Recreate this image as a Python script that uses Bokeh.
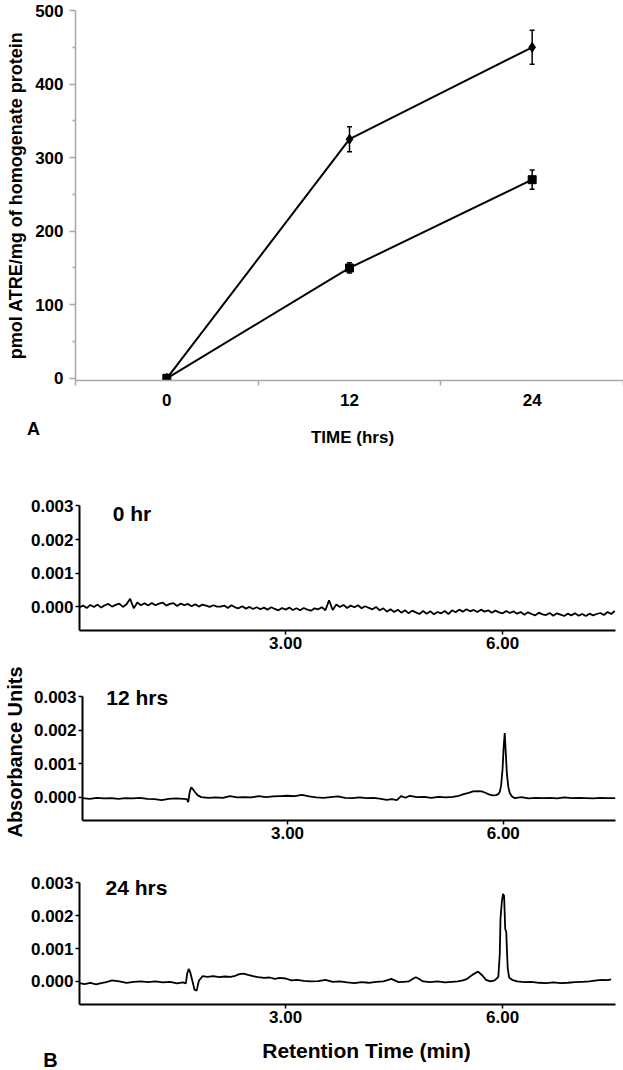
from bokeh.plotting import figure
from bokeh.models import (Range1d, FixedTicker, NumeralTickFormatter, Label,
                          Whisker, TeeHead, ColumnDataSource)
from bokeh.layouts import column
from bokeh.embed import file_html
from bokeh.resources import INLINE

FONT = "Liberation Sans"

# ---------------- Panel A data ----------------
time_hrs = [0, 12, 24]
atre_series1 = [0, 325, 450]      # diamonds
atre_series1_sem = [0, 17, 23]
atre_series2 = [0, 150, 270]      # squares
atre_series2_sem = [0, 7, 13]
a_yticks = [0, 100, 200, 300, 400, 500]
a_yminor = [50, 150, 250, 350, 450]
a_xboundaries = [-6, 6, 18, 30]

# ---------------- Panel B data (absorbance in units of 1e-4 AU) ----------------
b_yticks = [0.0, 0.001, 0.002, 0.003]
b_xticks = [3.0, 6.0]

time_0hr = [
    0.15, 0.20, 0.25, 0.30, 0.35, 0.40, 0.45, 0.50, 0.55, 0.60,
    0.65, 0.70, 0.75, 0.80, 0.85, 0.90, 0.95, 1.00, 1.05, 1.10,
    1.15, 1.20, 1.25, 1.30, 1.35, 1.40, 1.45, 1.50, 1.55, 1.60,
    1.65, 1.70, 1.75, 1.80, 1.85, 1.90, 1.95, 2.00, 2.05, 2.10,
    2.15, 2.20, 2.25, 2.30, 2.35, 2.40, 2.45, 2.50, 2.55, 2.60,
    2.65, 2.70, 2.75, 2.80, 2.85, 2.90, 2.95, 3.00, 3.05, 3.10,
    3.15, 3.20, 3.25, 3.30, 3.35, 3.40, 3.45, 3.50, 3.55, 3.60,
    3.65, 3.70, 3.75, 3.80, 3.85, 3.90, 3.95, 4.00, 4.05, 4.10,
    4.15, 4.20, 4.25, 4.30, 4.35, 4.40, 4.45, 4.50, 4.55, 4.60,
    4.65, 4.70, 4.75, 4.80, 4.85, 4.90, 4.95, 5.00, 5.05, 5.10,
    5.15, 5.20, 5.25, 5.30, 5.35, 5.40, 5.45, 5.50, 5.55, 5.60,
    5.65, 5.70, 5.75, 5.80, 5.85, 5.90, 5.95, 6.00, 6.05, 6.10,
    6.15, 6.20, 6.25, 6.30, 6.35, 6.40, 6.45, 6.50, 6.55, 6.60,
    6.65, 6.70, 6.75, 6.80, 6.85, 6.90, 6.95, 7.00, 7.05, 7.10,
    7.15, 7.20, 7.25, 7.30, 7.35, 7.40, 7.45, 7.50, 7.55,
]
abs_0hr_e4 = [
    -0.1, 0.4, -0.3, 0.6, 0.0, 0.7, -0.2, 0.5, 0.9, 0.1,
    0.6, 1.0, 0.0, 0.8, 2.4, -0.4, 1.3, 0.5, 1.1, 0.4,
    1.2, 0.5, 1.0, 1.3, 0.4, 0.9, 1.1, 0.3, 1.0, 0.5,
    0.9, 0.2, 0.8, 0.1, 0.7, 0.4, 0.0, 0.5, 0.1, 0.1,
    0.4, -0.3, 0.5, -0.1, -0.4, 0.2, -0.5, 0.0, -0.6, -0.1,
    -0.7, -0.2, -0.8, -0.1, -0.6, -1.0, -0.3, -0.8, -0.2, -0.9,
    -0.4, -1.0, -0.3, -0.8, -1.1, -0.4, -0.7, -0.1, -1.0, 2.0,
    -0.9, 0.7, 0.0, 0.6, -0.3, 0.4, -0.1, 0.5, -0.4, 0.2,
    -0.3, -0.7, 0.0, -1.0, -0.4, -1.4, -0.7, -1.5, -0.8, -1.7,
    -1.0, -1.9, -1.1, -1.6, -2.1, -1.2, -2.0, -1.3, -2.2, -1.5,
    -1.9, -1.2, -2.1, -1.0, -1.6, -0.8, -1.4, -0.7, -1.3, -0.9,
    -1.5, -0.8, -1.4, -1.0, -1.7, -1.1, -1.6, -1.9, -1.2, -1.8,
    -1.3, -2.0, -1.5, -2.3, -1.6, -2.1, -2.5, -1.7, -2.2, -2.4,
    -1.8, -2.6, -1.9, -2.3, -2.7, -2.0, -2.5, -1.9, -2.6, -2.1,
    -2.7, -2.0, -2.5, -2.1, -1.8, -2.4, -1.5, -2.1, -1.2,
]

time_12hr = [
    0.15, 0.25, 0.35, 0.45, 0.55, 0.65, 0.75, 0.85, 0.95, 1.05,
    1.15, 1.25, 1.35, 1.45, 1.55, 1.60, 1.62, 1.64, 1.66, 1.68,
    1.71, 1.75, 1.80, 1.90, 2.00, 2.10, 2.20, 2.30, 2.40, 2.50,
    2.60, 2.70, 2.80, 2.90, 3.00, 3.10, 3.20, 3.30, 3.40, 3.50,
    3.60, 3.70, 3.80, 3.90, 4.00, 4.10, 4.20, 4.30, 4.38, 4.45,
    4.52, 4.58, 4.64, 4.70, 4.80, 4.90, 5.00, 5.10, 5.20, 5.30,
    5.38, 5.45, 5.52, 5.58, 5.64, 5.70, 5.75, 5.80, 5.85, 5.90,
    5.93, 5.95, 5.97, 5.99, 6.005, 6.02, 6.035, 6.05, 6.07, 6.09,
    6.12, 6.16, 6.25, 6.35, 6.45, 6.55, 6.65, 6.75, 6.85, 6.95,
    7.05, 7.15, 7.25, 7.35, 7.45, 7.56,
]
abs_12hr_e4 = [
    -0.3, -0.5, -0.2, -0.4, -0.3, -0.5, -0.3, -0.4, -0.2, -0.5,
    -0.6, -0.9, -0.5, -0.4, -0.5, -0.6, -1.5, 1.5, 2.9, 2.5,
    1.6, 0.6, 0.0, -0.2, -0.1, -0.2, 0.3, -0.1, 0.0, -0.1,
    0.3, 0.0, 0.2, 0.3, 0.4, 0.3, 0.7, 0.2, -0.1, -0.2,
    0.0, 0.2, -0.2, -0.3, -0.1, -0.3, -0.2, -0.5, -0.8, -0.6,
    -0.9, 0.3, -0.2, 0.4, 0.0, 0.1, -0.2, 0.1, -0.1, 0.1,
    0.4, 0.9, 1.3, 1.7, 1.8, 1.7, 1.3, 0.8, 0.5, 0.6,
    0.9, 1.5, 3.5, 8.5, 15.0, 19.2, 13.0, 7.0, 3.0, 1.2,
    0.2, -0.3, 0.0, -0.4, -0.2, -0.3, -0.2, -0.4, -0.1, -0.3,
    -0.2, -0.3, -0.4, -0.2, -0.3, -0.3,
]

time_24hr = [
    0.15, 0.22, 0.30, 0.38, 0.45, 0.52, 0.60, 0.70, 0.80, 0.90,
    1.00, 1.10, 1.20, 1.30, 1.40, 1.50, 1.58, 1.62, 1.64, 1.66,
    1.68, 1.71, 1.74, 1.77, 1.80, 1.85, 1.92, 2.00, 2.08, 2.16,
    2.24, 2.30, 2.36, 2.42, 2.48, 2.55, 2.62, 2.70, 2.78, 2.85,
    2.92, 3.00, 3.08, 3.16, 3.25, 3.35, 3.45, 3.55, 3.65, 3.75,
    3.85, 3.95, 4.05, 4.15, 4.25, 4.35, 4.42, 4.46, 4.50, 4.56,
    4.63, 4.70, 4.76, 4.80, 4.84, 4.90, 5.00, 5.10, 5.20, 5.30,
    5.38, 5.45, 5.51, 5.58, 5.66, 5.72, 5.77, 5.83, 5.89, 5.94,
    5.96, 5.97, 5.99, 6.005, 6.02, 6.035, 6.05, 6.06, 6.07, 6.09,
    6.13, 6.20, 6.30, 6.40, 6.50, 6.60, 6.70, 6.80, 6.90, 7.00,
    7.10, 7.20, 7.30, 7.38, 7.45, 7.50,
]
abs_24hr_e4 = [
    -0.5, -0.8, -0.4, -0.9, -0.5, -0.2, 0.3, 0.0, -0.4, -0.1,
    0.0, -0.2, 0.0, -0.3, -0.1, -0.6, -0.3, -0.6, 2.5, 3.8,
    2.8, 0.2, -2.5, -2.8, 0.2, 1.6, 1.4, 1.6, 1.3, 1.5,
    1.4, 1.7, 2.2, 2.4, 2.0, 1.6, 1.3, 1.1, 1.2, 0.8,
    1.1, 0.9, 0.3, 0.5, 0.2, 0.0, 0.1, 0.5, -0.1, 0.0,
    -0.3, -0.5, -0.2, -0.4, -0.1, 0.0, 0.5, 0.8, 0.4, -0.2,
    -0.1, 0.0, 0.8, 1.3, 0.8, 0.0, -0.2, 0.0, -0.3, -0.1,
    0.0, 0.3, 0.8, 2.0, 3.0, 1.8, 0.5, 0.0, 0.3, 1.4,
    8.2, 19.0, 24.5, 26.6, 26.0, 16.0, 15.0, 9.0, 4.0, 1.2,
    0.5, 0.0, -0.2, -0.1, -0.4, -0.5, -0.3, -0.5, -0.4, -0.2,
    -0.1, 0.0, 0.3, 0.5, 0.4, 0.6,
]

panel_titles = ["0 hr", "12 hrs", "24 hrs"]

W = 623
GREY = "#a8a8a8"


def text_strip(height):
    """A figure without axes whose data space equals its pixel space."""
    s = figure(width=W, height=height, x_range=Range1d(0, W), y_range=Range1d(height, 0),
               x_axis_type=None, y_axis_type=None, min_border=0, frame_align=False,
               output_backend="svg", toolbar_location=None)
    s.outline_line_color = None
    return s


def label(x, y, text, size, align="center", angle=0.0):
    return Label(x=x, y=y, text=text, angle=angle, text_font=FONT, text_font_style="bold",
                 text_font_size=size, text_color="black",
                 text_align=align, text_baseline="middle")


# ---------------- Panel A ----------------
pa = figure(width=W, height=412, x_range=Range1d(-6, 30), y_range=Range1d(-3, 500),
            output_backend="svg", toolbar_location=None, frame_align=False,
            min_border_left=75, min_border_right=0, min_border_top=10, min_border_bottom=32)
pa.outline_line_color = None
pa.xgrid.visible = False
pa.ygrid.visible = False

xa = pa.xaxis[0]
xa.ticker = FixedTicker(ticks=time_hrs, minor_ticks=a_xboundaries)
xa.major_tick_out = 0
xa.major_tick_in = 0
xa.minor_tick_out = 5
xa.minor_tick_in = 0
xa.major_label_standoff = 8

ya = pa.yaxis[0]
ya.ticker = FixedTicker(ticks=a_yticks, minor_ticks=a_yminor)
ya.major_tick_out = 6
ya.major_tick_in = 0
ya.minor_tick_out = 3
ya.minor_tick_in = 0
ya.major_label_standoff = 6
ya.axis_label = "pmol ATRE/mg of homogenate protein"
ya.axis_label_standoff = 6

for ax in (xa, ya):
    ax.axis_line_color = GREY
    ax.axis_line_width = 1.5
    ax.major_tick_line_color = GREY
    ax.minor_tick_line_color = GREY
    ax.major_tick_line_width = 1.5
    ax.minor_tick_line_width = 1.5
    ax.major_label_text_font = FONT
    ax.major_label_text_font_style = "bold"
    ax.major_label_text_font_size = "17px"
    ax.major_label_text_color = "black"
    ax.axis_label_text_font = FONT
    ax.axis_label_text_font_style = "bold"
    ax.axis_label_text_font_size = "18px"
    ax.axis_label_text_color = "black"

src1 = ColumnDataSource(dict(
    x=time_hrs, y=atre_series1,
    upper=[v + e for v, e in zip(atre_series1, atre_series1_sem)],
    lower=[v - e for v, e in zip(atre_series1, atre_series1_sem)]))
src2 = ColumnDataSource(dict(
    x=time_hrs, y=atre_series2,
    upper=[v + e for v, e in zip(atre_series2, atre_series2_sem)],
    lower=[v - e for v, e in zip(atre_series2, atre_series2_sem)]))

for src in (src1, src2):
    pa.add_layout(Whisker(source=src, base="x", upper="upper", lower="lower",
                          line_color="black", line_width=1.5, level="glyph",
                          upper_head=TeeHead(size=5, line_color="black", line_width=1.5),
                          lower_head=TeeHead(size=5, line_color="black", line_width=1.5)))
pa.line("x", "y", source=src1, line_color="black", line_width=2)
pa.line("x", "y", source=src2, line_color="black", line_width=2)
pa.scatter("x", "y", source=src1, marker="diamond", size=10,
           fill_color="black", line_color="black")
pa.scatter("x", "y", source=src2, marker="square", size=8,
           fill_color="black", line_color="black")

# strip under panel A: "A" and the x-axis title
sa = text_strip(58)
sa.add_layout(label(33, 16, "A", "18px"))
sa.add_layout(label(352, 25, "TIME (hrs)", "17px"))


# ---------------- Panel B ----------------
def make_b(height, top, bottom, times, vals_e4, title, tx, ty, ylabel=None):
    p = figure(width=W, height=height, x_range=Range1d(0.15, 7.56),
               y_range=Range1d(-0.0007, 0.0034),
               output_backend="svg", toolbar_location=None, frame_align=False,
               min_border_left=79, min_border_right=8,
               min_border_top=top, min_border_bottom=bottom)
    p.outline_line_color = None
    p.xgrid.visible = False
    p.ygrid.visible = False
    xb = p.xaxis[0]
    xb.ticker = FixedTicker(ticks=b_xticks)
    xb.formatter = NumeralTickFormatter(format="0.00")
    yb = p.yaxis[0]
    yb.ticker = FixedTicker(ticks=b_yticks)
    yb.formatter = NumeralTickFormatter(format="0.000")
    yb.bounds = (-0.0007, 0.003)
    for ax in (xb, yb):
        ax.axis_line_color = "black"
        ax.axis_line_width = 2
        ax.major_tick_line_color = "black"
        ax.major_tick_line_width = 1.5
        ax.major_tick_out = 4
        ax.major_tick_in = 0
        ax.minor_tick_line_color = None
        ax.major_label_standoff = 2
        ax.major_label_text_font = FONT
        ax.major_label_text_font_style = "bold"
        ax.major_label_text_font_size = "17px"
        ax.major_label_text_color = "black"
    if ylabel:
        yb.axis_label = ylabel
        yb.axis_label_standoff = 5
        yb.axis_label_text_font = FONT
        yb.axis_label_text_font_style = "bold"
        yb.axis_label_text_font_size = "20px"
        yb.axis_label_text_color = "black"
    p.line(times, [v * 1e-4 for v in vals_e4], line_color="black", line_width=1.8)
    p.add_layout(label(tx, ty, title, "21px", align="left"))
    return p


pb1 = make_b(190, 22, 30, time_0hr, abs_0hr_e4, panel_titles[0], 0.61, 0.00278)
pb2 = make_b(188, 23, 28, time_12hr, abs_12hr_e4, panel_titles[1], 0.48, 0.00297,
             ylabel="Absorbance Units")
pb3 = make_b(188, 21, 32, time_24hr, abs_24hr_e4, panel_titles[2], 0.51, 0.00285)

# strip under panel B: "B" and the x-axis title
sb = text_strip(34)
sb.add_layout(label(366, 14, "Retention Time (min)", "21px"))
sb.add_layout(label(50, 23, "B", "20px"))

layout = column(pa, sa, pb1, pb2, pb3, sb, spacing=0)
open("out.html", "w").write(file_html(layout, INLINE))
